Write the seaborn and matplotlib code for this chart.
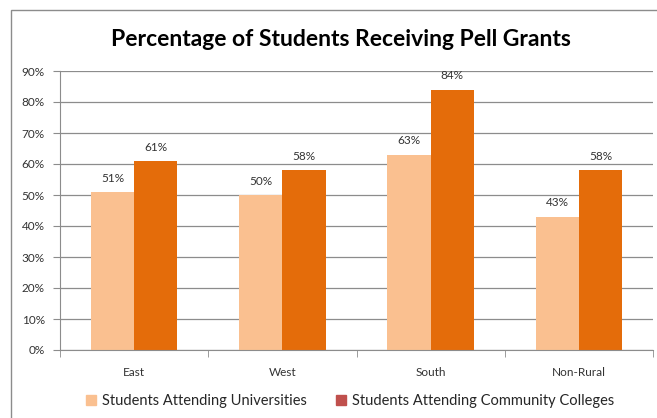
import pandas as pd
import matplotlib.pyplot as plt
import matplotlib.patches as mpatches
import seaborn as sns
from matplotlib.ticker import PercentFormatter

regions = ['East', 'West', 'South', 'Non-Rural']
universities = [51, 50, 63, 43]
community_colleges = [61, 58, 84, 58]
series_names = ['Students Attending Universities', 'Students Attending Community Colleges']

df = pd.DataFrame({
    'Region': regions * 2,
    'Series': [series_names[0]] * 4 + [series_names[1]] * 4,
    'Value': universities + community_colleges,
})

sns.set_style('white')
plt.rcParams['font.family'] = ['Lato', 'DejaVu Sans']

fig = plt.figure(figsize=(6.57, 4.18), dpi=100)
ax = fig.add_axes([60 / 657, 1 - 350 / 418, 593 / 657, 279 / 418])

bar_colors = ['#FAC090', '#E46C0A']
sns.barplot(data=df, x='Region', y='Value', hue='Series', palette=bar_colors,
            width=0.585, gap=0, saturation=1, linewidth=0, ax=ax, legend=False)

for c in ax.containers:
    ax.bar_label(c, labels=[f'{v:.0f}%' for v in c.datavalues], padding=6,
                 fontsize=8.5, color='#333333')

ax.set_ylim(0, 90)
ax.set_xlim(-0.5, 3.5)
ax.set_yticks(range(0, 91, 10))
ax.yaxis.set_major_formatter(PercentFormatter(decimals=0))
ax.yaxis.grid(True, color='#8c8c8c', linewidth=0.9)
ax.set_axisbelow(True)
ax.set_xlabel('')
ax.set_ylabel('')
for s in ['top', 'right']:
    ax.spines[s].set_visible(False)
for s in ['left', 'bottom']:
    ax.spines[s].set_color('#8c8c8c')
ax.tick_params(axis='y', length=5, color='#8c8c8c', labelsize=8.5, labelcolor='#333333', left=True, pad=6)
ax.tick_params(axis='x', length=0, labelsize=8.5, labelcolor='#333333', pad=12)
ax.set_xticks([-0.5, 0.5, 1.5, 2.5, 3.5], minor=True)
ax.tick_params(axis='x', which='minor', length=5, color='#8c8c8c', bottom=True)

fig.text(341 / 657, 1 - 40 / 418, 'Percentage of Students Receiving Pell Grants',
         ha='center', va='center', fontsize=16.5, fontweight='bold', color='black')

handles = [mpatches.Patch(color='#FAC090', label=series_names[0]),
           mpatches.Patch(color='#C0504D', label=series_names[1])]
fig.legend(handles=handles, loc='center', bbox_to_anchor=(350 / 657, 1 - 401 / 418),
           ncol=2, frameon=False, fontsize=10.5, handlelength=0.7, handleheight=0.7,
           handletextpad=0.4, columnspacing=2.0)

fig.patches.append(mpatches.Rectangle((11 / 657, -0.1), 1.2, 1.1 - 10 / 418,
                                      transform=fig.transFigure, fill=False,
                                      edgecolor='#8c8c8c', linewidth=1))

fig.savefig('out.png', dpi=100)
